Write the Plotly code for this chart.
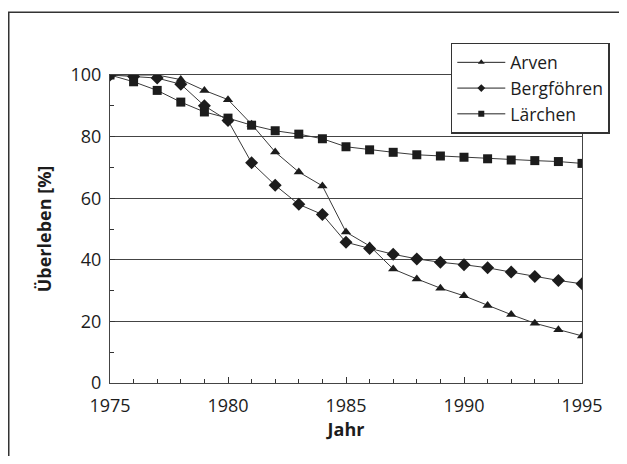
import plotly.graph_objects as go

# Jahre und Überlebensraten (%)
jahre = list(range(1975, 1996))

arven = [100, 100, 100, 98.5, 95, 92, 84, 75, 68.5, 64, 49, 44.5,
         37, 33.8, 30.8, 28.3, 25.2, 22.2, 19.4, 17.3, 15.3]
bergfoehren = [100, 99.5, 99, 97, 90, 85.2, 71.5, 64.2, 58, 54.7, 45.7, 43.7,
               41.8, 40.3, 39.2, 38.4, 37.4, 36, 34.6, 33.3, 32.2]
laerchen = [100, 97.8, 95, 91.2, 88, 86, 83.7, 81.9, 80.8, 79.3, 76.7, 75.7,
            74.9, 74.1, 73.7, 73.3, 72.8, 72.4, 72.2, 71.9, 71.3]

serien = [
    ("Arven", arven, "triangle-up"),
    ("Bergföhren", bergfoehren, "diamond"),
    ("Lärchen", laerchen, "square"),
]

schrift = "Open Sans"
schwarz = "#1c1c1c"

fig = go.Figure()
for name, werte, symbol in serien:
    fig.add_trace(go.Scatter(
        x=jahre,
        y=werte,
        mode="lines+markers",
        name=name,
        showlegend=False,
        line=dict(color="#3a3a3a", width=1),
        marker=dict(symbol=symbol, size=9 if symbol != "diamond" else 10,
                    color=schwarz, line=dict(width=0)),
    ))
    # Legendeneintrag mit kleinerem Symbol wie im Original
    fig.add_trace(go.Scatter(
        x=[None], y=[None],
        mode="lines+markers",
        name=name,
        line=dict(color="#222222", width=1),
        marker=dict(symbol=symbol, size=6, color=schwarz, line=dict(width=0)),
    ))

# äusserer Rahmen um die ganze Grafik (rechts und unten abgeschnitten)
fig.add_shape(
    type="rect", xref="paper", yref="paper",
    x0=-0.2145, x1=1.5, y0=-0.8, y1=1.204,
    line=dict(color="#333333", width=1.5), layer="below",
)

fig.update_layout(
    width=611,
    height=448,
    margin=dict(l=102, r=37, t=67, b=73, autoexpand=False),
    plot_bgcolor="white",
    paper_bgcolor="white",
    font=dict(family=schrift, color=schwarz, size=17),
    showlegend=True,
    legend=dict(
        x=0.722, y=1.104, xanchor="left", yanchor="top",
        bgcolor="white", bordercolor="#333333", borderwidth=1.5,
        font=dict(size=17.5, family=schrift),
        itemwidth=48,
        tracegroupgap=0,
    ),
    xaxis=dict(
        range=[1975, 1995],
        tickmode="linear", tick0=1975, dtick=5,
        ticks="inside", ticklen=6, tickcolor="#333333",
        minor=dict(dtick=1, ticks="inside", ticklen=4, tickcolor="#333333"),
        showgrid=False, zeroline=False,
        showline=True, linecolor="#444444", linewidth=1.2, mirror=True,
        title=dict(text="<b>Jahr</b>", font=dict(size=18), standoff=4),
        tickfont=dict(size=18),
        ticklabelstandoff=6,
    ),
    yaxis=dict(
        range=[0, 100],
        tickmode="linear", tick0=0, dtick=20,
        ticks="inside", ticklen=5, tickcolor="#333333",
        minor=dict(dtick=10, ticks="inside", ticklen=4, tickcolor="#333333"),
        showgrid=True, gridcolor="#444444", gridwidth=1,
        zeroline=False,
        showline=True, linecolor="#444444", linewidth=1.2, mirror=True,
        title=dict(text="<b>Überleben [%]</b>", font=dict(size=18), standoff=14),
        tickfont=dict(size=18),
        ticklabelstandoff=4,
    ),
)

fig.write_html("out.html")
